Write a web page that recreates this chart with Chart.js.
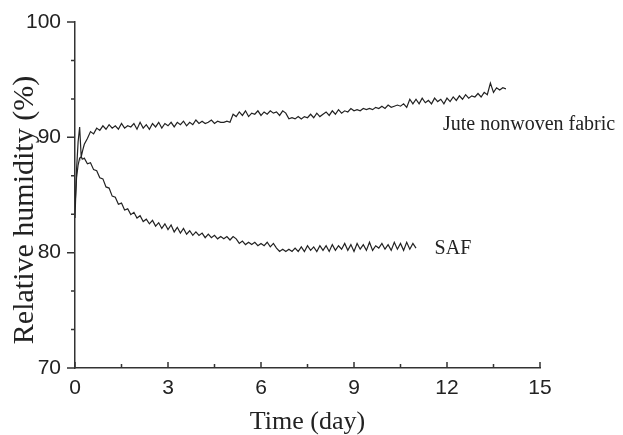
<!DOCTYPE html>
<html lang="en">
<head>
    <meta charset="UTF-8">
    <title>Relative humidity vs time</title>
    <script src="https://cdn.jsdelivr.net/npm/chart.js"></script>
    <style>
        html, body { margin: 0; padding: 0; background: #fff; }
        #wrap { width: 623px; height: 435px; }
    </style>
</head>
<body>
    <div id="wrap"><canvas id="rhChart"></canvas></div>

    <script>
        // Sample times (day), shared by both curves
        const days = [0, 0.05, 0.1, 0.15, 0.2, 0.25,
            0.3, 0.4, 0.5, 0.6, 0.7, 0.8, 0.9, 1.0, 1.1, 1.2, 1.3, 1.4, 1.5, 1.6, 1.7, 1.8, 1.9,
            2.0, 2.1, 2.2, 2.3, 2.4, 2.5, 2.6, 2.7, 2.8, 2.9, 3.0, 3.1, 3.2, 3.3, 3.4, 3.5, 3.6, 3.7, 3.8, 3.9,
            4.0, 4.1, 4.2, 4.3, 4.4, 4.5, 4.6, 4.7, 4.8, 4.9, 5.0, 5.1, 5.2, 5.3, 5.4, 5.5, 5.6, 5.7, 5.8, 5.9,
            6.0, 6.1, 6.2, 6.3, 6.4, 6.5, 6.6, 6.7, 6.8, 6.9, 7.0, 7.1, 7.2, 7.3, 7.4, 7.5, 7.6, 7.7, 7.8, 7.9,
            8.0, 8.1, 8.2, 8.3, 8.4, 8.5, 8.6, 8.7, 8.8, 8.9, 9.0, 9.1, 9.2, 9.3, 9.4, 9.5, 9.6, 9.7, 9.8, 9.9,
            10.0, 10.1, 10.2, 10.3, 10.4, 10.5, 10.6, 10.7, 10.8, 10.9, 11.0, 11.1, 11.2, 11.3, 11.4, 11.5, 11.6, 11.7, 11.8, 11.9,
            12.0, 12.1, 12.2, 12.3, 12.4, 12.5, 12.6, 12.7, 12.8, 12.9, 13.0, 13.1, 13.2, 13.3, 13.4, 13.5, 13.6, 13.7, 13.8, 13.9];

        // Jute nonwoven fabric, relative humidity (%)
        const juteRH = [83.0, 87.2, 89.6, 90.9, 88.3, 88.9,
            89.4, 89.9, 90.5, 90.3, 90.8, 90.6, 91.0, 90.7, 91.1, 90.8, 91.0, 90.7, 91.2, 90.8, 91.0, 90.9, 91.2,
            90.7, 91.3, 90.8, 91.1, 90.7, 91.2, 90.9, 91.3, 90.8, 91.2, 91.0, 91.3, 90.9, 91.3, 91.1, 91.4, 91.0, 91.3, 91.1, 91.5,
            91.2, 91.4, 91.2, 91.3, 91.5, 91.2, 91.4, 91.3, 91.3, 91.4, 91.3, 92.0, 91.8, 92.2, 91.9, 92.3, 91.8, 92.1, 92.0, 92.3,
            91.9, 92.2, 92.0, 92.3, 92.1, 92.2, 91.9, 92.3, 92.1, 91.6, 91.7, 91.6, 91.8, 91.6, 91.8, 91.7, 92.0, 91.7, 92.1, 91.8,
            92.0, 92.2, 91.9, 92.3, 92.0, 92.4, 92.1, 92.3, 92.2, 92.5, 92.3, 92.4, 92.3, 92.5, 92.4, 92.5, 92.4, 92.6, 92.5, 92.7,
            92.5, 92.8, 92.6, 92.7, 92.8, 92.7, 92.9, 92.6, 93.3, 92.9, 93.3, 92.9, 93.4, 93.0, 93.2, 92.9, 93.4, 93.1, 93.3, 92.9,
            93.4, 93.1, 93.5, 93.2, 93.6, 93.3, 93.7, 93.4, 93.6, 93.5, 93.8, 93.5, 93.9, 93.7, 94.7, 93.9, 94.3, 94.1, 94.3, 94.2];

        // SAF, relative humidity (%) - ends at day 11
        const safRH = [84.0, 86.5, 87.6, 88.2, 88.3, 88.1,
            88.2, 87.7, 87.8, 87.2, 87.1, 86.5, 86.4, 85.7, 85.6, 84.9, 84.8, 84.2, 84.3, 83.7, 83.8, 83.3, 83.5,
            83.0, 83.2, 82.7, 82.9, 82.5, 82.8, 82.3, 82.6, 82.1, 82.5, 82.0, 82.4, 81.8, 82.2, 81.7, 82.1, 81.6, 81.9, 81.5, 81.8,
            81.5, 81.7, 81.3, 81.6, 81.3, 81.5, 81.2, 81.4, 81.2, 81.4, 81.1, 81.4, 81.2, 80.8, 81.0, 80.7, 80.9, 80.7, 80.9, 80.6,
            80.8, 80.6, 80.9, 80.5, 80.8, 80.4, 80.1, 80.3, 80.1, 80.3, 80.1, 80.4, 80.1, 80.5, 80.1, 80.6, 80.2, 80.5, 80.1, 80.6,
            80.2, 80.6, 80.1, 80.7, 80.2, 80.6, 80.3, 80.8, 80.2, 80.7, 80.1, 80.8, 80.3, 80.7, 80.2, 80.9, 80.2, 80.6, 80.4, 80.8,
            80.3, 80.7, 80.2, 80.9, 80.3, 80.8, 80.2, 80.9, 80.3, 80.8, 80.4];

        // Axis ticks
        const xMajor = [0, 3, 6, 9, 12, 15];
        const xMinor = [1.5, 4.5, 7.5, 10.5, 13.5];
        const yMajor = [70, 80, 90, 100];
        const yMinor = [73.33, 76.67, 83.33, 86.67, 93.33, 96.67];

        // Curve labels (in data units)
        const curveLabels = [
            { text: 'Jute nonwoven fabric', x: 11.87, y: 91.1 },
            { text: 'SAF', x: 11.6, y: 80.3 }
        ];

        const INK = '#222';
        const SERIF = '"Liberation Serif", "Times New Roman", serif';
        const SANS = '"Liberation Sans", Arial, sans-serif';

        // Tick marks (x inward, y outward), curve labels and the y title
        const extras = {
            id: 'extras',
            afterDraw(chart) {
                const ctx = chart.ctx;
                const xs = chart.scales.x, ys = chart.scales.y;
                const area = chart.chartArea;
                ctx.save();
                ctx.strokeStyle = '#333';
                ctx.lineWidth = 1.5;
                ctx.beginPath();
                xMajor.forEach(v => {
                    const px = xs.getPixelForValue(v);
                    ctx.moveTo(px, area.bottom); ctx.lineTo(px, area.bottom - 6);
                });
                xMinor.forEach(v => {
                    const px = xs.getPixelForValue(v);
                    ctx.moveTo(px, area.bottom); ctx.lineTo(px, area.bottom - 4);
                });
                yMajor.forEach(v => {
                    const py = ys.getPixelForValue(v);
                    ctx.moveTo(area.left, py); ctx.lineTo(area.left - 8, py);
                });
                yMinor.forEach(v => {
                    const py = ys.getPixelForValue(v);
                    ctx.moveTo(area.left, py); ctx.lineTo(area.left - 4, py);
                });
                ctx.stroke();

                ctx.fillStyle = INK;
                ctx.font = '20px ' + SERIF;
                ctx.textBaseline = 'middle';
                ctx.textAlign = 'left';
                curveLabels.forEach(l => {
                    ctx.fillText(l.text, xs.getPixelForValue(l.x), ys.getPixelForValue(l.y));
                });

                // y axis title
                ctx.translate(25, 210);
                ctx.rotate(-Math.PI / 2);
                ctx.textAlign = 'center';
                ctx.font = '30px ' + SERIF;
                ctx.fillText('Relative humidity (%)', 0, 0);
                ctx.restore();
            }
        };

        const ctx = document.getElementById('rhChart').getContext('2d');
        new Chart(ctx, {
            type: 'line',
            data: {
                datasets: [
                    {
                        label: 'Jute nonwoven fabric',
                        data: juteRH.map((v, i) => ({ x: days[i], y: v })),
                        borderColor: INK,
                        borderWidth: 1.2,
                        pointRadius: 0,
                        tension: 0
                    },
                    {
                        label: 'SAF',
                        data: safRH.map((v, i) => ({ x: days[i], y: v })),
                        borderColor: INK,
                        borderWidth: 1.2,
                        pointRadius: 0,
                        tension: 0
                    }
                ]
            },
            options: {
                responsive: true,
                maintainAspectRatio: false,
                animation: false,
                layout: { padding: { left: 0, top: 22, right: 83, bottom: 0 } },
                plugins: {
                    legend: { display: false },
                    tooltip: { enabled: false }
                },
                scales: {
                    x: {
                        type: 'linear',
                        min: 0,
                        max: 15,
                        afterBuildTicks: s => { s.ticks = xMajor.map(v => ({ value: v })); },
                        afterFit: s => { s.height = 67; },
                        grid: { display: false },
                        border: { display: true, color: '#333', width: 1.5 },
                        ticks: {
                            color: INK,
                            padding: 0,
                            maxRotation: 0,
                            font: { family: SANS, size: 21 }
                        },
                        title: {
                            display: true,
                            text: 'Time (day)',
                            color: INK,
                            padding: { top: 0, bottom: 0 },
                            font: { family: SERIF, size: 26, lineHeight: 1 }
                        }
                    },
                    y: {
                        min: 70,
                        max: 100,
                        afterBuildTicks: s => { s.ticks = yMajor.map(v => ({ value: v })); },
                        afterFit: s => { s.width = 75; },
                        grid: { display: false },
                        border: { display: true, color: '#333', width: 1.5 },
                        ticks: {
                            color: INK,
                            padding: 6,
                            font: { family: SANS, size: 21 }
                        }
                    }
                }
            },
            plugins: [extras]
        });
    </script>
</body>
</html>
